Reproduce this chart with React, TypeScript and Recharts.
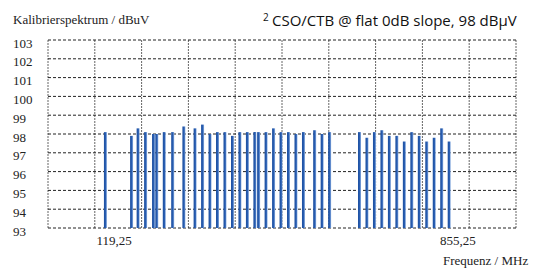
import React from 'react';
import { BarChart, Bar, XAxis, YAxis, CartesianGrid } from 'recharts';

// Channel frequencies (MHz)
const frequencies = [
  119.25, 175.25, 189.25, 205.25, 222.25, 229.25, 245.25, 263.25, 287.25, 311.25,
  327.25, 343.25, 359.25, 375.25, 391.25, 407.25, 423.25, 439.25, 447.25, 463.25,
  479.25, 495.25, 511.25, 527.25, 543.25, 567.25, 583.25, 599.25,
  663.25, 679.25, 695.25, 711.25, 727.25, 743.25, 759.25, 775.25, 791.25, 807.25,
  823.25, 839.25, 855.25,
];

// Calibration level (dBuV)
const levels = [
  98.1, 97.9, 98.3, 98.1, 98.0, 98.0, 98.1, 98.1, 98.4, 98.3,
  98.5, 98.0, 98.1, 98.1, 97.9, 98.1, 98.1, 98.1, 98.1, 98.1,
  98.3, 98.1, 98.1, 98.0, 98.1, 98.2, 98.0, 98.1,
  98.1, 97.8, 98.1, 98.2, 97.9, 97.9, 97.6, 98.1, 97.9, 97.6,
  97.8, 98.3, 97.6,
];

const yTicks = [93, 94, 95, 96, 97, 98, 99, 100, 101, 102, 103];
const xTickValues = [119.25, 855.25];
const gridSteps = [0, 1, 2, 3, 4, 5, 6, 7, 8, 9, 10];

const data = frequencies.map((f, i) => ({ freq: f, level: levels[i] }));

const SERIF = '"Liberation Serif", "Times New Roman", serif';
const SANS = '"Open Sans", "Noto Sans", sans-serif';

const YTick = (props: any) => {
  const { y, payload } = props;
  return (
    <text x={13} y={y + 3} dominantBaseline="central" fontFamily={SERIF} fontSize={13} fill="#222">
      {payload.value}
    </text>
  );
};

const XTick = (props: any) => {
  const { x, y, payload } = props;
  return (
    <text x={x + 8.5} y={y + 12.5} textAnchor="middle" dominantBaseline="central" fontFamily={SERIF} fontSize={13} fill="#222">
      {String(payload.value).replace('.', ',')}
    </text>
  );
};

export default function App() {
  return (
    <div style={{ position: 'absolute', left: 0, top: 0, width: 537, height: 268, background: '#fff' }}>
      <BarChart
        width={537}
        height={268}
        data={data}
        margin={{ top: 40, right: 21, bottom: 0, left: 0 }}
      >
        <defs>
          <linearGradient id="barGrad" x1="0" y1="0" x2="1" y2="0">
            <stop offset="0%" stopColor="#1d4f9f" />
            <stop offset="60%" stopColor="#2a5fb3" />
            <stop offset="100%" stopColor="#9dbbe6" />
          </linearGradient>
        </defs>
        <XAxis
          dataKey="freq"
          type="number"
          domain={[-4, 998]}
          ticks={xTickValues}
          allowDataOverflow
          axisLine={false}
          tickLine={false}
          tickSize={0}
          tickMargin={0}
          height={40}
          tick={<XTick />}
          interval={0}
        />
        <XAxis
          xAxisId="grid"
          type="number"
          dataKey="gridIdx"
          domain={[0, 10]}
          ticks={gridSteps}
          allowDataOverflow
          hide
        />
        <YAxis
          type="number"
          domain={[93, 103]}
          ticks={yTicks}
          allowDataOverflow
          axisLine={false}
          tickLine={false}
          width={48}
          tick={<YTick />}
          interval={0}
        />
        <CartesianGrid
          xAxisId="grid"
          vertical={true}
          horizontal={false}
          stroke="#666"
          strokeDasharray="2 1"
        />
        <CartesianGrid
          vertical={false}
          horizontal={true}
          stroke="#222"
          strokeDasharray="3 2"
        />
        <Bar dataKey="level" fill="url(#barGrad)" barSize={3} isAnimationActive={false} />
      </BarChart>
      <svg
        width={537}
        height={268}
        style={{ position: 'absolute', left: 0, top: 0, pointerEvents: 'none' }}
      >
        <text x={13} y={24} fontFamily={SERIF} fontSize={13} fill="#222">
          Kalibrierspektrum / dBuV
        </text>
        <text x={263} y={21} fontFamily={SANS} fontSize={10} fill="#111">2</text>
        <text x={272} y={26} fontFamily={SANS} fontSize={15} fill="#111">
          CSO/CTB @ flat 0dB slope, 98 dBµV
        </text>
        <text x={443} y={265} fontFamily={SERIF} fontSize={13} fill="#222">
          Frequenz / MHz
        </text>
      </svg>
    </div>
  );
}
